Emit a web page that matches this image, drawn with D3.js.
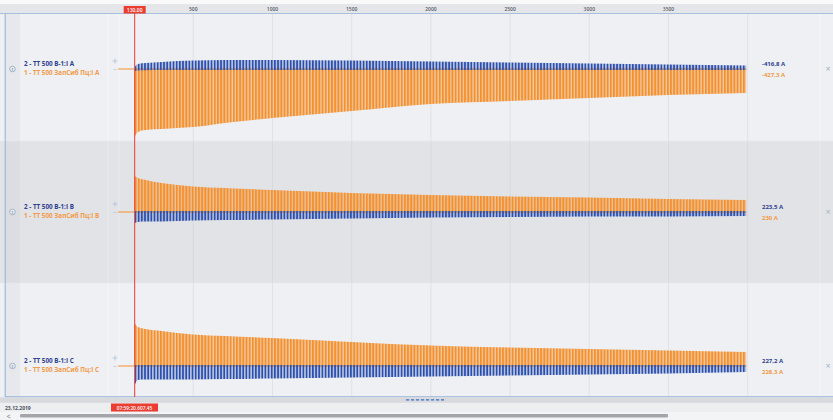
<!DOCTYPE html>
<html><head><meta charset="utf-8">
<script src="https://cdn.jsdelivr.net/npm/d3@7"></script>
<style>
html,body{margin:0;padding:0;background:#fff;}
svg{display:block;font-family:"Open Sans","DejaVu Sans",sans-serif;}
</style></head>
<body><svg id="c" width="833" height="420"></svg>
<script>
// ---- data ----
const TICKS = [500, 1000, 1500, 2000, 2500, 3000, 3500];
const GRID = [500, 1000, 1500, 2000, 2500, 3000, 3500, 4000];
const CURSOR_T = 130;
const CURSOR_LABEL = "130,00";
const CURSOR_TIME = "07:59:20.607.45";
const DATE = "23.12.2019";
const PERIOD_MS = 20;
const PRE_TIME = [25, 130];
const PRE_VAL = [0, 0];
const TIME = [130, 150, 200, 300, 400, 500, 700, 1000, 1500, 2000, 2500, 3000, 3500, 3990];

// phase A
const A_CH1_MAX = [25, 25, 25, 25, 25, 25, 25, 25, 25, 25, 25, 25, 25, 25];
const A_CH1_MIN = [-1700, -1575, -1525, -1500, -1475, -1450, -1350, -1225, -1050, -875, -800, -725, -650, -600];
const A_CH2_MAX = [50, 125, 150, 175, 200, 212, 225, 225, 212, 188, 162, 138, 112, 88];
const A_CH2_MIN = [-50, -40, -30, -25, -25, -25, -25, -25, -25, -25, -25, -25, -25, -25];
// phase B
const B_CH1_MAX = [900, 850, 800, 725, 675, 638, 600, 550, 475, 425, 388, 362, 325, 300];
const B_CH1_MIN = [-25, -25, -25, -25, -25, -25, -25, -25, -25, -25, -25, -25, -25, -25];
const B_CH2_MAX = [25, 25, 25, 25, 25, 25, 25, 25, 25, 25, 25, 25, 25, 25];
const B_CH2_MIN = [-275, -250, -238, -238, -225, -212, -200, -188, -162, -138, -125, -112, -112, -100];
// phase C
const C_CH1_MAX = [1075, 975, 925, 875, 825, 788, 750, 700, 600, 512, 462, 425, 388, 350];
const C_CH1_MIN = [-25, -25, -25, -25, -25, -25, -25, -25, -25, -25, -25, -25, -25, -25];
const C_CH2_MAX = [25, 25, 25, 25, 25, 25, 25, 25, 25, 25, 25, 25, 25, 25];
const C_CH2_MIN = [-475, -350, -338, -338, -338, -338, -325, -312, -288, -262, -238, -212, -188, -150];

const NAMES2 = ["2 - ТТ 500 В-1:I A", "2 - ТТ 500 В-1:I B", "2 - ТТ 500 В-1:I C"];
const NAMES1 = ["1 - ТТ 500 ЗапСиб Пц:I A", "1 - ТТ 500 ЗапСиб Пц:I B", "1 - ТТ 500 ЗапСиб Пц:I C"];
const VAL2 = ["-416,8 A", "223,5 A", "227,2 A"];
const VAL1 = ["-427,3 A", "230 A", "228,3 A"];

// ---- layout / style ----
const W = 833, H = 420;
const BLUE = "#2c4fae", ORANGE = "#f5902e";
const panels = [
  {top: 14, bot: 141, bg: "#eef0f3", dom: [-1800, 1375], ch1: [A_CH1_MIN, A_CH1_MAX], ch2: [A_CH2_MIN, A_CH2_MAX]},
  {top: 141, bot: 283, bg: "#e2e3e6", dom: [-1775, 1775], ch1: [B_CH1_MIN, B_CH1_MAX], ch2: [B_CH2_MIN, B_CH2_MAX]},
  {top: 283, bot: 397, bg: "#eef0f3", dom: [-775, 2075], ch1: [C_CH1_MIN, C_CH1_MAX], ch2: [C_CH2_MIN, C_CH2_MAX]}
];

const svg = d3.select("#c");
const x = d3.scaleLinear().domain([0, 4000]).range([114.1, 747.7]);

// patterns for dense cycles
const defs = svg.append("defs");
const pw = x(PERIOD_MS) - x(0);
function pattern(id, col, bgOp, frac) {
  const p = defs.append("pattern").attr("id", id).attr("patternUnits", "userSpaceOnUse")
    .attr("x", x(CURSOR_T)).attr("y", 0).attr("width", pw).attr("height", 4);
  p.append("rect").attr("width", pw).attr("height", 4).attr("fill", col).attr("opacity", bgOp);
  p.append("rect").attr("width", pw * frac).attr("height", 4).attr("fill", col);
}
pattern("po", ORANGE, 0.4, 0.6);
pattern("pb", BLUE, 0.3, 0.5);

// background
svg.append("rect").attr("width", W).attr("height", H).attr("fill", "#f4f5f7");

// header
svg.append("rect").attr("x", 0).attr("y", 0).attr("width", W).attr("height", 4).attr("fill", "#fafafb");
svg.append("rect").attr("x", 0).attr("y", 4).attr("width", W).attr("height", 10).attr("fill", "#e4e6ea");
svg.append("line").attr("x1", 0).attr("x2", W).attr("y1", 13.8).attr("y2", 13.8).attr("stroke", "#8fb0d8").attr("stroke-width", 1);
svg.append("g").selectAll("text").data(TICKS).join("text")
  .attr("x", d => x(d)).attr("y", 11).attr("text-anchor", "middle")
  .attr("font-size", 5).attr("font-weight", 600).attr("fill", "#555b66").text(d => d);

// panels
panels.forEach((p, i) => {
  const y = d3.scaleLinear().domain(p.dom).range([p.bot, p.top]);
  const g = svg.append("g");
  g.append("rect").attr("x", 0).attr("y", p.top).attr("width", W).attr("height", p.bot - p.top).attr("fill", p.bg);
  g.append("rect").attr("x", 5).attr("y", p.top).attr("width", 15).attr("height", p.bot - p.top).attr("fill", i === 1 ? "#dcdde1" : "#e6e8ec");
  // grid
  g.selectAll("line.grid").data(GRID).join("line").attr("class", "grid")
    .attr("x1", d => x(d)).attr("x2", d => x(d)).attr("y1", p.top).attr("y2", p.bot)
    .attr("stroke", i === 1 ? "#d6d7db" : "#dcdee2").attr("stroke-width", 0.8);
  [108, 119, 820].forEach(xx => g.append("line").attr("x1", xx).attr("x2", xx).attr("y1", p.top).attr("y2", p.bot)
    .attr("stroke", i === 1 ? "#eaebee" : "#f7f8fa").attr("stroke-width", 0.8));
  if (i > 0) g.append("line").attr("x1", 5).attr("x2", W).attr("y1", p.top).attr("y2", p.top).attr("stroke", "#e8e9ec").attr("stroke-width", 0.6);

  const y0 = y(0);
  // pre-trigger line
  const pre = d3.line().x((d, k) => x(PRE_TIME[k])).y(d => y(d));
  g.append("path").attr("d", pre(PRE_VAL)).attr("stroke", ORANGE).attr("stroke-width", 1).attr("fill", "none");

  const area = (mn, mx) => d3.area().curve(d3.curveMonotoneX)
    .x((d, k) => x(TIME[k])).y0((d, k) => y(mn[k])).y1((d, k) => y(mx[k]))(TIME);
  g.append("path").attr("d", area(p.ch1[0], p.ch1[1])).attr("fill", "url(#po)");
  g.append("path").attr("d", area(p.ch2[0], p.ch2[1])).attr("fill", "url(#pb)");

  // labels
  const yl = y0;
  g.append("text").attr("x", 24).attr("y", yl - 3).attr("font-size", 6.3).attr("font-weight", 700)
    .attr("fill", "#2d4090").text(NAMES2[i]);
  g.append("text").attr("x", 24).attr("y", yl + 6).attr("font-size", 6.3).attr("font-weight", 700)
    .attr("fill", "#f39a48").text(NAMES1[i]);
  g.append("text").attr("x", 762).attr("y", yl - 3).attr("font-size", 6).attr("font-weight", 700)
    .attr("fill", "#2d4090").text(VAL2[i]);
  g.append("text").attr("x", 762).attr("y", yl + 7.5).attr("font-size", 6).attr("font-weight", 700)
    .attr("fill", "#f39a48").text(VAL1[i]);
  g.append("text").attr("x", 828).attr("y", yl + 2.5).attr("text-anchor", "middle").attr("font-size", 9)
    .attr("fill", "#a4b2c6").text("×");
  // zoom +/- controls drawn as small strokes
  const pm = g.append("g").attr("stroke", "#a9bcd6").attr("stroke-width", 0.7);
  pm.append("line").attr("x1", 112.5).attr("x2", 117.5).attr("y1", yl - 8).attr("y2", yl - 8);
  pm.append("line").attr("x1", 115).attr("x2", 115).attr("y1", yl - 10.5).attr("y2", yl - 5.5);
  pm.append("line").attr("x1", 113.5).attr("x2", 116.5).attr("y1", yl + 0.5).attr("y2", yl + 0.5).attr("stroke", "#b6bfcc");
  g.append("circle").attr("cx", 12.5).attr("cy", yl).attr("r", 2.8).attr("fill", "#eef0f3").attr("stroke", "#8fa6c4").attr("stroke-width", 0.8);
  g.append("text").attr("x", 12.5).attr("y", yl + 1.5).attr("text-anchor", "middle").attr("font-size", 4)
    .attr("fill", "#6f86a6").text("⇕");
});

// left border
svg.append("line").attr("x1", 5.2).attr("x2", 5.2).attr("y1", 14).attr("y2", 397).attr("stroke", "#93b3d9").attr("stroke-width", 1);

// bottom
svg.append("line").attr("x1", 5).attr("x2", W).attr("y1", 396.8).attr("y2", 396.8).attr("stroke", "#8fb0d8").attr("stroke-width", 1);
svg.append("rect").attr("x", 0).attr("y", 397.3).attr("width", W).attr("height", 5.5).attr("fill", "#d8d9dc");
svg.append("line").attr("x1", 406).attr("x2", 444).attr("y1", 399.8).attr("y2", 399.8).attr("stroke", "#3a6fc8")
  .attr("stroke-width", 1.2).attr("stroke-dasharray", "3.2,1.8");
svg.append("rect").attr("x", 0).attr("y", 403).attr("width", W).attr("height", 9).attr("fill", "#eceef0");
svg.append("text").attr("x", 5).attr("y", 409.6).attr("font-size", 5).attr("font-weight", 700).attr("fill", "#4a505a").text(DATE);
svg.append("rect").attr("x", 0).attr("y", 412).attr("width", W).attr("height", 8).attr("fill", "#f3f4f6");
svg.append("text").attr("x", 6.5).attr("y", 418.5).attr("font-size", 7).attr("fill", "#666").text("<");
svg.append("rect").attr("x", 20).attr("y", 414).attr("width", 648).attr("height", 3.4).attr("rx", 1).attr("fill", "#a3a5a9");

// cursor
const cx = x(CURSOR_T);
svg.append("line").attr("x1", cx).attr("x2", cx).attr("y1", 6).attr("y2", 397).attr("stroke", "#ec3b30").attr("stroke-width", 1);
svg.append("rect").attr("x", cx - 11).attr("y", 6).attr("width", 22).attr("height", 7.5).attr("fill", "#ec3b30");
svg.append("text").attr("x", cx).attr("y", 11.8).attr("text-anchor", "middle").attr("font-size", 5).attr("font-weight", 600)
  .attr("fill", "#fff").text(CURSOR_LABEL);
svg.append("rect").attr("x", 111).attr("y", 403.5).attr("width", 47).attr("height", 8).attr("fill", "#ec3b30");
svg.append("text").attr("x", 134.5).attr("y", 409.5).attr("text-anchor", "middle").attr("font-size", 4.8).attr("font-weight", 600)
  .attr("fill", "#fff").text(CURSOR_TIME);
</script></body></html>
